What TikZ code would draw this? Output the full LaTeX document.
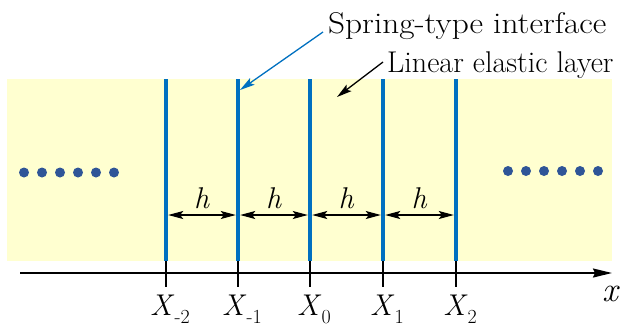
\documentclass[tikz,border=0pt]{standalone}
\usepackage{fontspec}
\usepackage{graphicx}
\usetikzlibrary{arrows.meta,positioning}
\definecolor{layercol}{RGB}{255,255,208}
\definecolor{ifacecol}{RGB}{0,112,192}
\definecolor{dotcol}{RGB}{47,85,151}
\newcommand\tsz{\fontsize{30}{36}\selectfont}
\newcommand\lowidx[1]{\raisebox{-8pt}{\fontsize{20}{24}\selectfont #1}}

\begin{document}
\begin{tikzpicture}[x=1pt,y=-1pt,>={Stealth[length=15pt,width=8pt,inset=3pt]}]
\useasboundingbox (0,0) rectangle (624,333);
% the layered strip, dots at both ends
\fill[layercol] (7,79) rectangle (612,261);
\foreach \k in {0,...,5} {
  \fill[dotcol] (24+18*\k,172.5) circle (5pt);
  \fill[dotcol] (508+18*\k,171) circle (5pt);
}
% x axis
\coordinate (axl) at (20,273);
\coordinate (axr) at (612,273);
\draw[line width=1.8pt,-{Stealth[length=19pt,width=9pt,inset=2pt]}] (axl) -- (axr);
\node[font=\fontsize{35}{40}\selectfont] (xlab) at (611,294) {\textit{x}};
% interfaces, ticks and positions X_i
\foreach \i/\xx/\sub in {0/166/-2,1/238/-1,2/310/0,3/383/1,4/456/2} {
  \coordinate (top\i) at (\xx,79);
  \coordinate (bot\i) at (\xx,261);
  \coordinate (tick\i) at (\xx,287);
  \coordinate (mid\i) at (\xx,215);
  \draw[ifacecol,line width=4.5pt] (top\i) -- (bot\i);
  \draw[line width=1.8pt] (bot\i) -- (tick\i);
  \node[anchor=base,inner sep=0pt] (X\i) at (\xx+4,315) {\tsz\textit{X}\lowidx{\sub}};
}
% spacing h
\foreach \i/\j in {0/1,1/2,2/3,3/4}
  \draw[<->,line width=1.3pt,shorten <=2.2pt,shorten >=2.2pt] (mid\i) -- (mid\j)
    node[midway,above=4pt,inner sep=2pt] (h\i) {\tsz\textit{h}};
% labels
\node[anchor=base west,inner sep=0pt] (springlab) at (328,33) {\tsz\scalebox{1.11}[1]{Spring-type interface}};
\node[anchor=base west,inner sep=0pt] (layerlab) at (387,72) {\tsz Linear elastic layer};
\coordinate (springtip) at (240,90);
\coordinate (layertip) at (337,97);
\draw[ifacecol,line width=1.3pt,->] ([shift={(-5pt,1pt)}]springlab.base west) -- (springtip);
\draw[line width=1.3pt,->] ([shift={(-4pt,10pt)}]layerlab.base west) -- (layertip);
\end{tikzpicture}
\end{document}
